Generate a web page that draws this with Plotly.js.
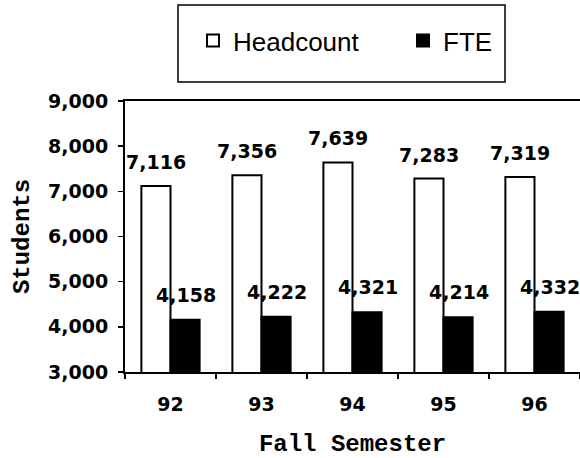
<!DOCTYPE html>
<html>
<head>
<meta charset="utf-8">
<script src="https://cdn.plot.ly/plotly-3.0.1.min.js"></script>
<style>
  html, body { margin: 0; padding: 0; background: #fff; }
  #chart { width: 580px; height: 458px; }
</style>
</head>
<body>
<div id="chart"></div>
<script>
const semesters = ['92', '93', '94', '95', '96'];
const headcount = [7116, 7356, 7639, 7283, 7319];
const fte = [4158, 4222, 4321, 4214, 4332];
const seriesNames = ['Headcount', 'FTE'];
const yTicks = [3000, 4000, 5000, 6000, 7000, 8000, 9000];

const tickFont = { family: 'DejaVu Sans, Verdana, sans-serif', size: 19, color: '#000', weight: 'bold' };
const titleFont = { family: 'Courier New, Liberation Mono, monospace', size: 24, color: '#000', weight: 'bold' };

const traces = [
  {
    type: 'bar', name: seriesNames[0], x: semesters, y: headcount,
    marker: { color: '#ffffff', line: { color: '#000', width: 2 } },
    hoverinfo: 'skip'
  },
  {
    type: 'bar', name: seriesNames[1], x: semesters, y: fte,
    marker: { color: '#000000', line: { color: '#000', width: 2 } },
    hoverinfo: 'skip'
  }
];

const fmt = v => v.toLocaleString('en-US');
const annotations = [];
semesters.forEach((s, i) => {
  // category axis: position by category index (numeric-looking category names would be read as indices)
  annotations.push({ x: i, y: headcount[i], xref: 'x', yref: 'y', text: fmt(headcount[i]),
    showarrow: false, xshift: -15, yshift: 24, yanchor: 'middle', font: tickFont });
  annotations.push({ x: i, y: fte[i], xref: 'x', yref: 'y', text: fmt(fte[i]),
    showarrow: false, xshift: 15, yshift: 25, yanchor: 'middle', font: tickFont });
});

const layout = {
  width: 580, height: 458,
  margin: { l: 125, r: 0, t: 101, b: 86 },
  paper_bgcolor: '#fff', plot_bgcolor: '#fff',
  barmode: 'group', bargap: 0.36, bargroupgap: 0,
  showlegend: true,
  legend: {
    orientation: 'h', xref: 'container', yref: 'container',
    x: 193 / 580, xanchor: 'left', y: 1 - 17 / 458, yanchor: 'top',
    font: { family: 'Liberation Sans, Arial, sans-serif', size: 26, color: '#000' },
    bgcolor: 'rgba(0,0,0,0)', borderwidth: 0,
    entrywidth: 165, entrywidthmode: 'pixels', traceorder: 'normal'
  },
  xaxis: {
    type: 'category', range: [-0.5, 4.5],
    showline: true, linecolor: '#000', linewidth: 2, mirror: true,
    ticks: 'outside', ticklen: 5, tickwidth: 1.5, tickcolor: '#000', tickson: 'boundaries',
    showgrid: false, zeroline: false,
    tickfont: tickFont, ticklabelstandoff: 14,
    title: { text: 'Fall Semester', font: titleFont, standoff: 20 },
    automargin: false, fixedrange: true
  },
  yaxis: {
    range: [3000, 9000], tickvals: yTicks, tickformat: ',',
    showline: true, linecolor: '#000', linewidth: 2, mirror: false,
    ticks: 'outside', ticklen: 5, tickwidth: 1.5, tickcolor: '#000',
    showgrid: false, zeroline: false,
    tickfont: tickFont, ticklabelstandoff: 6,
    title: { text: 'Students', font: titleFont, standoff: 12 },
    automargin: false, fixedrange: true
  },
  shapes: [{
    type: 'rect', xref: 'paper', yref: 'paper',
    x0: (178 - 125) / 455, x1: (505 - 125) / 455,
    y0: (372 - 82) / 271, y1: (372 - 5) / 271,
    line: { color: '#000', width: 1.5 }, fillcolor: 'rgba(0,0,0,0)'
  }],
  annotations: annotations
};

Plotly.newPlot('chart', traces, layout, { staticPlot: true, displayModeBar: false });
</script>
</body>
</html>
